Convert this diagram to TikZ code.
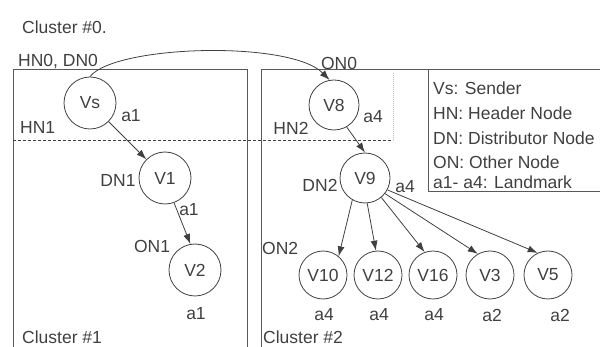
\documentclass[tikz,border=0pt]{standalone}
\usepackage{fontspec}
\setmainfont{Liberation Sans}
\usetikzlibrary{arrows.meta}
\definecolor{ink}{gray}{0.25}
\definecolor{frameink}{gray}{0.35}
\begin{document}
\begin{tikzpicture}[x=1pt,y=-1pt,
  font=\fontsize{17.5}{20}\selectfont,
  vnode/.style={circle, draw=ink, text=ink, line width=0.8pt, minimum size=52pt, inner sep=0pt},
  snode/.style={vnode, minimum size=48pt},
  lbl/.style={inner sep=0pt, text=ink},
  lblw/.style={lbl, anchor=west},
  arr/.style={draw=ink, line width=0.8pt, -{Latex[length=10pt,width=7pt]}},
  frame/.style={draw=frameink, line width=1pt}]
\useasboundingbox (0,0) rectangle (600,347);
% frames
\draw[frame] (13,350) -- (13,70) -- (247,70) -- (247,350);
\draw[frame] (261,350) -- (261,70) -- (605,70);
\draw[frame] (428,70) -- (428,192) -- (605,192);
\draw[ink, dashed, dash pattern=on 3pt off 2pt, line width=0.7pt] (13,140) -- (393,140);
\draw[gray!50, dash pattern=on 1pt off 1pt, line width=0.6pt] (393,73) -- (393,140);
% nodes
\node[vnode] (Vs) at (90,103) {Vs};
\node[vnode] (V1) at (165,178) {V1};
\node[vnode] (V2) at (195,270) {V2};
\node[vnode, minimum size=50pt] (V8) at (334,105) {V8};
\node[vnode, minimum size=50pt] (V9) at (365,178) {V9};
\node[snode] (V10) at (323,275) {V10};
\node[snode] (V12) at (378,275) {V12};
\node[snode] (V16) at (433,275) {V16};
\node[snode] (V3) at (490,275) {V3};
\node[snode] (V5) at (548,275) {V5};
% connectors
\draw[arr] (Vs.north) .. controls (115,45) and (290,40) .. (V8.100);
\draw[arr] (Vs) -- (V1);
\draw[arr] (V1.290) -- (V2.100);
\draw[arr] (V8.-60) -- (V9.north);
\draw[arr] (V9.240) -- (V10.50);
\draw[arr] (V9.275) -- (V12.95);
\draw[arr] (V9.-50) -- (V16.110);
\draw[arr] (V9.-38) -- (V3.120);
\draw[arr] (V9.-28) -- (V5.115);
% labels
\node[lblw] (c0) at (22,27) {Cluster \#0.};
\node[lblw] (hn0) at (18,62) {HN0, DN0};
\node[lblw] (hn1) at (20,127) {HN1};
\node[lbl] (la1) at (131,116) {a1};
\node[lbl] (dn1) at (118,180) {DN1};
\node[lbl] (lb1) at (189,210) {a1};
\node[lbl] (on1) at (152,246) {ON1};
\node[lbl] (lc1) at (196,314) {a1};
\node[lblw] (c1) at (22,337) {Cluster \#1};
\node[lbl] (on0) at (339,63) {ON0};
\node[lbl] (la4) at (373,117) {a4};
\node[lbl] (hn2) at (291,128) {HN2};
\node[lbl] (dn2) at (320,185) {DN2};
\node[lbl] (lb4) at (405,187) {a4};
\node[lblw] (on2) at (262,248) {ON2};
\node[lbl] (l10) at (324,315) {a4};
\node[lbl] (l12) at (379,315) {a4};
\node[lbl] (l16) at (434,315) {a4};
\node[lbl] (l3) at (492,315) {a2};
\node[lbl] (l5) at (560,315) {a2};
\node[lblw] (c2) at (263,337) {Cluster \#2};
% legend
\node[lblw] (g1) at (433,88) {Vs: Sender};
\node[lblw] (g2) at (433,113) {HN: Header Node};
\node[lblw] (g3) at (433,138) {DN: Distributor Node};
\node[lblw] (g4) at (433,162) {ON: Other Node};
\node[lblw] (g5) at (433,182) {a1- a4: Landmark};
\end{tikzpicture}
\end{document}
